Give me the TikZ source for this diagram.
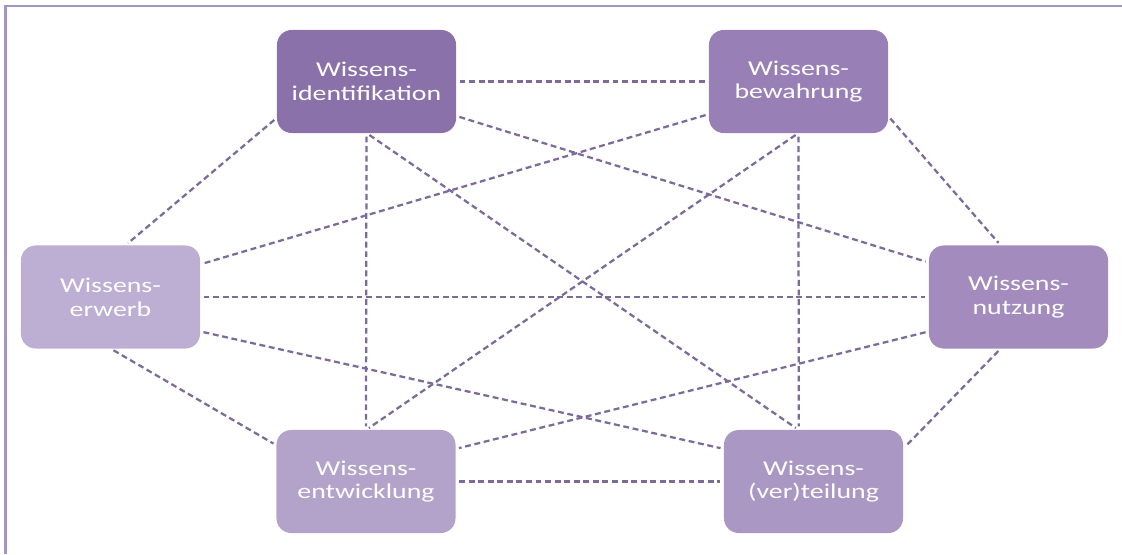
\documentclass[tikz,border=0pt]{standalone}
\usepackage{fontspec}
\setmainfont[FakeStretch=1.32]{Carlito}

\definecolor{framecol}{RGB}{165,150,192}
\definecolor{linkcol}{RGB}{124,106,154}
\definecolor{identcol}{RGB}{139,113,169}
\definecolor{bewcol}{RGB}{152,128,182}
\definecolor{nutzcol}{RGB}{163,140,189}
\definecolor{vertcol}{RGB}{170,151,195}
\definecolor{entwcol}{RGB}{179,163,202}
\definecolor{erwcol}{RGB}{189,174,211}

\tikzset{
  phase/.style={rectangle, rounded corners=10.5pt, minimum width=4.475cm, minimum height=2.575cm,
    inner sep=0pt, outer sep=0pt, text=white, align=center, font=\fontsize{15}{16.8}\selectfont},
  link/.style={draw=linkcol, line width=1.6pt, dash pattern=on 4.2pt off 2.6pt,
    shorten >=2.5pt, shorten <=2.5pt}
}

\begin{document}
\begin{tikzpicture}[x=0.025cm, y=-0.025cm]
  \useasboundingbox (0,0) rectangle (1122,554);
  \draw[framecol, line width=1.5pt] (5.5,554) -- (5.5,6) -- (1122,6);

  \node[phase, fill=identcol] (ident) at (366.5,81.5) {Wissens-\\identifikation};
  \node[phase, fill=bewcol]   (bew)   at (798.5,81.5) {Wissens-\\bewahrung};
  \node[phase, fill=erwcol]   (erwerb) at (110.5,297) {Wissens-\\erwerb};
  \node[phase, fill=nutzcol]  (nutzung) at (1018.5,297) {Wissens-\\nutzung};
  \node[phase, fill=entwcol]  (entw)  at (366,481.5) {Wissens-\\entwicklung};
  \node[phase, fill=vertcol]  (vert)  at (813.5,481.5) {Wissens-\\(ver)teilung};

  \draw[link] (ident) -- (bew);
  \draw[link] (ident.202) -- (erwerb.74);
  \draw[link] (ident.-21) -- (nutzung.159);
  \draw[link] (ident.south) -- (entw.north);
  \draw[link] (ident.south) -- (vert.106);

  \draw[link] (bew.200) -- (erwerb.20);
  \draw[link] (bew.-21) -- (nutzung.109);
  \draw[link] (bew.south) -- (entw.north);
  \draw[link] (bew.south) -- (vert.106);

  \draw[link] (erwerb) -- (nutzung);
  \draw[link] (erwerb.south) -- (entw.158);
  \draw[link] (erwerb.-21) -- (vert.160);

  \draw[link] (nutzung.201) -- (entw.20);
  \draw[link] (nutzung.251) -- (vert.20);

  \draw[link] (entw) -- (vert);
\end{tikzpicture}
\end{document}
